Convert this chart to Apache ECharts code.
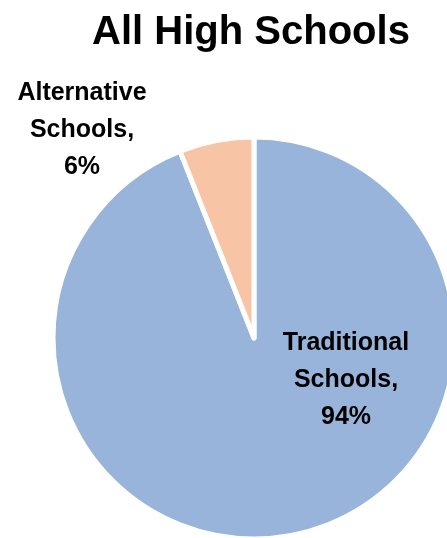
<!DOCTYPE html>
<html><head><meta charset="utf-8">
<script src="https://cdn.jsdelivr.net/npm/echarts@6/dist/echarts.min.js"></script>
<style>html,body{margin:0;padding:0;background:#fff}#c{width:447px;height:538px}</style>
</head><body><div id="c"></div>
<script>
var categories = ['Traditional Schools', 'Alternative Schools'];
var values = [94, 6];
var colors = ['#99B4DA', '#F7C4A6'];
var titleText = 'All High Schools';

var chart = echarts.init(document.getElementById('c'), null, {renderer: 'canvas'});
var FONT = '"Liberation Sans", Arial, sans-serif';
var labelPos = [[346, 380], [82, 130]];
chart.setOption({
  animation: false,
  title: {
    text: titleText, left: 246, top: 8, textAlign: 'center',
    textStyle: {fontFamily: FONT, fontWeight: 'bold', fontSize: 40, color: '#000'}
  },
  series: [{
    type: 'pie',
    center: [254, 338],
    radius: [0, 201],
    startAngle: 90,
    clockwise: true,
    avoidLabelOverlap: false,
    itemStyle: {borderColor: '#fff', borderWidth: 5},
    label: {
      show: true,
      formatter: function (p) { return p.name.replace(' ', '\n') + ',\n' + p.value + '%'; },
      fontFamily: FONT, fontWeight: 'bold', fontSize: 25, lineHeight: 37,
      color: '#000', align: 'center', verticalAlign: 'middle'
    },
    labelLine: {show: false},
    labelLayout: function (p) { return {x: labelPos[p.dataIndex][0], y: labelPos[p.dataIndex][1], align: 'center', verticalAlign: 'middle'}; },
    data: categories.map(function (c, i) { return {name: c, value: values[i], itemStyle: {color: colors[i]}}; })
  }]
});
</script></body></html>
